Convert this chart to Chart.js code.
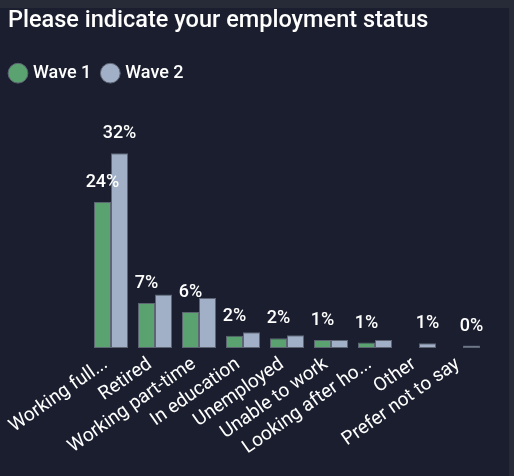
<!DOCTYPE html>
<html>
<head>
<meta charset="utf-8">
<script src="https://cdn.jsdelivr.net/npm/chart.js@4.4.1/dist/chart.umd.min.js"></script>
<style>
  html, body { margin: 0; padding: 0; background: #1a1e2e; }
  canvas { display: block; }
</style>
</head>
<body>
<canvas id="chart" width="514" height="476"></canvas>
<script>
// Employment status by survey wave (share of respondents, %)
const categories = [
  'Working full...', 'Retired', 'Working part-time', 'In education',
  'Unemployed', 'Unable to work', 'Looking after ho...', 'Other', 'Prefer not to say'
];
const seriesNames = ['Wave 1', 'Wave 2'];
const wave1 = [24.0, 7.4, 5.9, 2.0, 1.6, 1.3, 0.9, null, null];
const wave2 = [32.0, 8.8, 8.2, 2.6, 2.1, 1.3, 1.3, 0.8, 0.4];

const GREEN = '#5aa371';
const SLATE = '#a1b0c6';
const EDGE = '#5d6573';
const FONT = 'Roboto';

// Panel background with the thin frame along the top and right edges
const panelBackground = {
  id: 'panelBackground',
  beforeDraw(chart) {
    const { ctx, width, height } = chart;
    ctx.save();
    ctx.fillStyle = '#272a37';
    ctx.fillRect(0, 0, width, height);
    ctx.fillStyle = '#1a1e2e';
    ctx.fillRect(0, 8, width - 5, height - 8);
    ctx.restore();
  }
};

// Pull the legend row flush with the title's left edge
const legendShift = {
  id: 'legendShift',
  afterLayout(chart) {
    if (chart.legend) {
      chart.legend.left -= 9;
      chart.legend.right -= 9;
    }
  }
};

// Percent labels above the bars; a label that would crowd one already
// placed in the same category is skipped
const valueLabels = {
  id: 'valueLabels',
  afterDatasetsDraw(chart) {
    const { ctx } = chart;
    ctx.save();
    ctx.font = `500 18px ${FONT}`;
    ctx.fillStyle = '#ffffff';
    ctx.textAlign = 'center';
    ctx.textBaseline = 'alphabetic';
    const boxH = 22;
    chart.data.labels.forEach((_, j) => {
      const boxes = [];
      chart.data.datasets.forEach((ds, i) => {
        const v = ds.data[j];
        if (v == null) return;
        const bar = chart.getDatasetMeta(i).data[j];
        const text = Math.round(v) + '%';
        const w = ctx.measureText(text).width;
        const base = bar.y - 15;
        const box = { l: bar.x - w / 2, r: bar.x + w / 2, t: base - boxH, b: base };
        const hit = boxes.some(o => box.l < o.r && box.r > o.l && box.t < o.b && box.b > o.t);
        if (hit) return;
        boxes.push(box);
        ctx.fillText(text, bar.x, base);
      });
    });
    ctx.restore();
  }
};

const barStyle = {
  borderColor: EDGE,
  borderWidth: 1,
  borderSkipped: false,
  categoryPercentage: 0.773,
  barPercentage: 1.0
};

new Chart(document.getElementById('chart'), {
  type: 'bar',
  data: {
    labels: categories,
    datasets: [
      { label: seriesNames[0], data: wave1, backgroundColor: GREEN, ...barStyle },
      { label: seriesNames[1], data: wave2, backgroundColor: SLATE, ...barStyle }
    ]
  },
  options: {
    responsive: false,
    animation: false,
    devicePixelRatio: 1,
    layout: { padding: { left: 8, right: 29, top: 7, bottom: 0 } },
    plugins: {
      title: {
        display: true,
        text: 'Please indicate your employment status',
        align: 'start',
        color: '#ffffff',
        font: { family: FONT, size: 23.5, weight: '500' },
        padding: { top: 0, bottom: 16 }
      },
      legend: {
        position: 'top',
        align: 'start',
        labels: {
          usePointStyle: true,
          pointStyle: 'circle',
          boxWidth: 12,
          boxHeight: 14,
          padding: 13,
          color: '#ffffff',
          font: { family: FONT, size: 18, weight: '500' }
        }
      },
      tooltip: { enabled: false }
    },
    scales: {
      x: {
        grid: { display: false },
        border: { display: false },
        ticks: {
          color: '#ffffff',
          font: { family: FONT, size: 19 },
          minRotation: 35,
          maxRotation: 35,
          autoSkip: false,
          padding: -3,
          labelOffset: -5
        },
        afterFit(scale) { scale.height = 128; }
      },
      y: {
        min: 0,
        max: 42.05,
        grid: { display: false },
        border: { display: false },
        ticks: { display: false },
        afterFit(scale) { scale.width = 81; }
      }
    }
  },
  plugins: [panelBackground, legendShift, valueLabels]
});
</script>
</body>
</html>
